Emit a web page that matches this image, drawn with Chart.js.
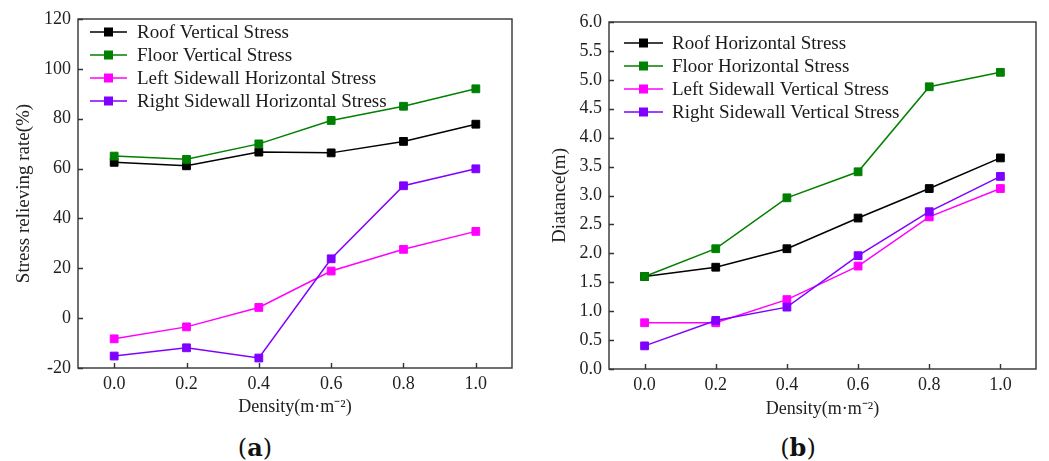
<!DOCTYPE html>
<html><head><meta charset="utf-8">
<script src="https://cdn.jsdelivr.net/npm/chart.js@4"></script>
<style>
html,body{margin:0;padding:0;background:#fff;width:1049px;height:461px;overflow:hidden;}
.box{position:absolute;top:0;height:430px;}
#wa{left:0;width:520px;}
#wb{left:520px;width:529px;}
.lab{position:absolute;font-family:'DejaVu Serif',serif;font-size:24px;color:#111;transform:translate(-50%,-50%);top:447px;white-space:nowrap;}
</style></head><body>
<div class="box" id="wa"><canvas id="ca"></canvas></div>
<div class="box" id="wb"><canvas id="cb"></canvas></div>
<div class="lab" style="left:255px">(<b>a</b>)</div>
<div class="lab" style="left:798px">(<b>b</b>)</div>
<script>
// ---- data ----
const density = [0, 0.2, 0.4, 0.6, 0.8, 1.0];
const xTicks = [0, 0.2, 0.4, 0.6, 0.8, 1.0];
const xTitle = 'Density(m·m⁻²)';

// (a) stress relieving rate (%)
const namesA = ['Roof Vertical Stress', 'Floor Vertical Stress', 'Left Sidewall Horizontal Stress', 'Right Sidewall Horizontal Stress'];
const roofVertical = [62.5, 61.1, 66.6, 66.3, 70.9, 77.8];
const floorVertical = [65.0, 63.7, 69.9, 79.3, 85.0, 92.0];
const leftSidewallHorizontal = [-8.3, -3.5, 4.3, 18.9, 27.6, 34.8];
const rightSidewallHorizontal = [-15.2, -11.9, -16.0, 23.8, 53.1, 59.9];
const yTicksA = [120, 100, 80, 60, 40, 20, 0, -20];
const yTitleA = 'Stress relieving rate(%)';

// (b) distance (m)
const namesB = ['Roof Horizontal Stress', 'Floor Horizontal Stress', 'Left Sidewall Vertical Stress', 'Right Sidewall Vertical Stress'];
const roofHorizontal = [1.60, 1.76, 2.08, 2.61, 3.12, 3.65];
const floorHorizontal = [1.60, 2.08, 2.96, 3.41, 4.88, 5.13];
const leftSidewallVertical = [0.80, 0.80, 1.20, 1.78, 2.63, 3.12];
const rightSidewallVertical = [0.40, 0.84, 1.07, 1.96, 2.72, 3.33];
const yTicksB = [6.0, 5.5, 5.0, 4.5, 4.0, 3.5, 3.0, 2.5, 2.0, 1.5, 1.0, 0.5, 0.0];
const yTitleB = 'Diatance(m)';

const seriesColors = ['#000000', '#008000', '#ff00ff', '#8000ff'];

// ---- plugins ----
const framePlugin = {
  id: 'frame',
  afterDraw(chart) {
    const ctx = chart.ctx, a = chart.chartArea;
    ctx.save();
    ctx.strokeStyle = '#333';
    ctx.lineWidth = 1.4;
    ctx.strokeRect(a.left, a.top, a.right - a.left, a.bottom - a.top);
    ctx.beginPath();
    chart.scales.y.ticks.forEach(t => {
      const y = Math.round(chart.scales.y.getPixelForValue(t.value)) + 0.5;
      ctx.moveTo(a.left, y); ctx.lineTo(a.left + 5, y);
    });
    chart.scales.x.ticks.forEach(t => {
      const x = Math.round(chart.scales.x.getPixelForValue(t.value)) + 0.5;
      ctx.moveTo(x, a.bottom); ctx.lineTo(x, a.bottom - 5);
    });
    ctx.stroke();
    ctx.restore();
  }
};
const innerLegend = {
  id: 'innerLegend',
  afterDraw(chart, args, o) {
    const ctx = chart.ctx;
    ctx.save();
    ctx.font = o.font;
    ctx.textBaseline = 'middle';
    ctx.textAlign = 'left';
    chart.data.datasets.forEach((ds, i) => {
      const y = o.y0 + i * o.dy;
      ctx.strokeStyle = ds.borderColor;
      ctx.lineWidth = 1.5;
      ctx.beginPath();
      ctx.moveTo(o.x, y); ctx.lineTo(o.x + o.len, y);
      ctx.stroke();
      ctx.fillStyle = ds.borderColor;
      ctx.fillRect(o.x + o.len / 2 - 4.5, y - 4.5, 9, 9);
      ctx.fillStyle = '#1a1a1a';
      ctx.fillText(ds.label, o.x + o.len + o.gap, y + 1);
    });
    ctx.restore();
  }
};

function makeChart(id, names, series, cfg) {
  const datasets = series.map((vals, i) => ({
    label: names[i],
    data: density.map((x, k) => ({ x: x, y: vals[k] })),
    borderColor: seriesColors[i],
    backgroundColor: seriesColors[i],
    pointBackgroundColor: seriesColors[i],
    pointBorderColor: seriesColors[i],
    borderWidth: 1.5,
    pointStyle: 'rect',
    pointRadius: 5.5,
    pointBorderWidth: 1,
    tension: 0,
    order: series.length - 1 - i
  }));
  const tickFont = { family: 'Liberation Serif', size: 18 };
  const xTitleFont = { family: 'Liberation Serif', size: 18 };
  const yTitleFont = { family: 'Liberation Serif', size: 19 };
  return new Chart(document.getElementById(id), {
    type: 'line',
    data: { datasets },
    options: {
      responsive: true, maintainAspectRatio: false, animation: false,
      layout: { padding: cfg.pad },
      plugins: {
        legend: { display: false }, tooltip: { enabled: false },
        innerLegend: cfg.legend
      },
      scales: {
        x: {
          type: 'linear', min: -0.1, max: 1.1,
          afterBuildTicks: s => { s.ticks = xTicks.map(v => ({ value: v })); },
          afterFit: s => { s.height = cfg.xh; },
          grid: { display: false, drawTicks: false }, border: { display: false },
          ticks: { padding: 5, font: tickFont, color: '#222', maxRotation: 0, autoSkip: false, callback: v => Number(v).toFixed(1) },
          title: { display: true, text: xTitle, font: xTitleFont, color: '#222', padding: { top: 0, bottom: cfg.xtpad } }
        },
        y: {
          type: 'linear', min: cfg.ymin, max: cfg.ymax,
          afterBuildTicks: s => { s.ticks = cfg.yTicks.map(v => ({ value: v })); },
          afterFit: s => { s.width = cfg.yw; },
          grid: { display: false, drawTicks: false }, border: { display: false },
          ticks: { padding: 7, font: tickFont, color: '#222', autoSkip: false, callback: v => cfg.fmt(v) },
          title: { display: true, text: cfg.yTitle, font: yTitleFont, color: '#222', padding: { top: 3, bottom: 0 } }
        }
      }
    },
    plugins: [framePlugin, innerLegend]
  });
}

makeChart('ca', namesA, [roofVertical, floorVertical, leftSidewallHorizontal, rightSidewallHorizontal], {
  pad: { left: 10, top: 19, right: 8, bottom: 0 },
  yw: 68, xh: 62, xtpad: 12,
  ymin: -20, ymax: 120, yTicks: yTicksA, fmt: v => String(v), yTitle: yTitleA,
  legend: { x: 90, len: 37, gap: 10, y0: 32, dy: 23, font: '19px "Liberation Serif"' }
});
makeChart('cb', namesB, [roofHorizontal, floorHorizontal, leftSidewallVertical, rightSidewallVertical], {
  pad: { left: 26, top: 22, right: 13, bottom: 0 },
  yw: 63, xh: 61, xtpad: 10,
  ymin: 0, ymax: 6, yTicks: yTicksB, fmt: v => Number(v).toFixed(1), yTitle: yTitleB,
  legend: { x: 104, len: 39, gap: 9, y0: 43, dy: 23, font: '19px "Liberation Serif"' }
});
</script>
</body></html>
